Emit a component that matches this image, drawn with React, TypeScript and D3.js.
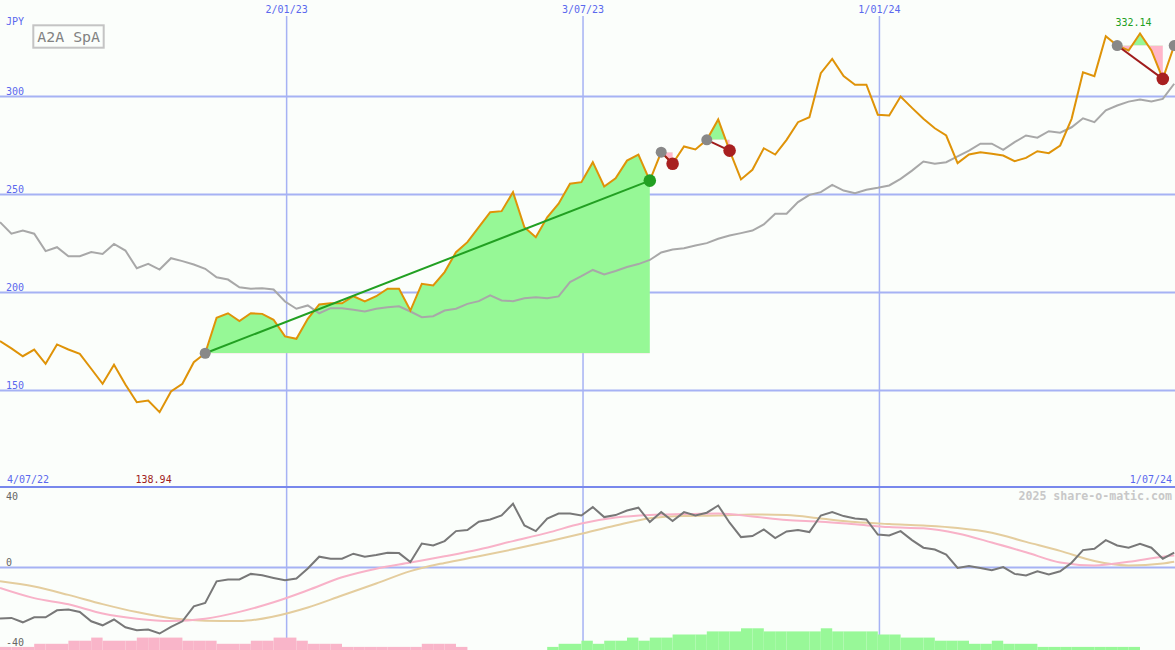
import React from 'react';
import * as d3 from 'd3';

const W = 1175;
const H = 650;

// Weekly closes (JPY)
const price = [
  175.2, 171.5, 167.5, 170.9, 163.6, 173.5, 170.9, 168.7, 161.1, 153.4,
  163.1, 153.1, 144.0, 144.9, 138.94, 149.5, 153.4, 164.4, 169.0, 187.1,
  189.4, 185.4, 189.4, 189.1, 186.1, 177.6, 176.4, 186.6, 193.9, 194.5,
  194.5, 198.1, 195.4, 198.1, 201.9, 201.9, 190.8, 204.4, 203.6, 210.4,
  220.6, 225.7, 233.3, 241.0, 241.5, 251.2, 233.3, 228.2, 238.4, 245.3,
  255.5, 256.3, 266.5, 254.1, 258.3, 267.3, 270.3, 257.1, 271.6, 265.7,
  274.5, 273.0, 277.9, 288.3, 272.4, 257.7, 262.6, 273.6, 270.4, 277.9,
  286.9, 289.4, 311.9, 319.2, 310.4, 306.0, 306.0, 290.7, 290.3, 300.0,
  294.2, 288.6, 283.8, 280.1, 266.0, 270.4, 271.6, 270.8, 269.9, 267.0,
  268.7, 272.1, 271.1, 275.0, 288.6, 312.4, 310.4, 330.8, 326.0, 323.5,
  332.14, 323.5, 309.0, 326.0,
];

// Grey comparison line
const benchmark = [
  235.9, 230.0, 231.6, 230.0, 221.1, 223.1, 218.5, 218.5, 220.6, 219.7,
  224.8, 221.4, 212.4, 214.6, 211.7, 217.5, 216.0, 214.3, 212.1, 207.8,
  206.6, 202.7, 201.9, 202.2, 201.5, 195.4, 191.7, 193.4, 189.4, 192.0,
  192.0, 191.2, 190.3, 191.7, 192.5, 193.0, 190.3, 187.4, 187.9, 190.8,
  191.7, 194.2, 195.6, 198.5, 195.9, 195.6, 197.1, 197.6, 197.1, 198.0,
  205.3, 208.3, 211.5, 209.2, 211.0, 213.0, 214.5, 216.6, 220.4, 221.9,
  222.6, 224.0, 225.2, 227.4, 229.1, 230.3, 231.6, 234.7, 240.2, 240.2,
  246.1, 249.8, 251.2, 254.9, 252.0, 250.7, 252.4, 253.4, 254.6, 258.0,
  262.2, 266.8, 265.7, 266.5, 269.4, 272.4, 275.9, 275.9, 272.8, 276.7,
  280.1, 279.0, 282.3, 281.5, 284.3, 288.9, 286.9, 292.9, 295.4, 297.4,
  298.5, 297.4, 298.8, 306.5,
];

// Lower panel: momentum oscillator
const momentum = [
  -25.5, -25.2, -27.4, -24.9, -24.9, -21.4, -21.0, -22.2, -26.9, -28.9,
  -26.0, -29.9, -31.4, -31.0, -33.0, -29.7, -26.9, -19.4, -17.7, -6.9,
  -6.0, -6.0, -3.2, -3.9, -5.2, -6.4, -5.5, -0.5, 5.4, 4.4,
  4.4, 6.9, 5.4, 6.2, 7.4, 7.2, 2.7, 12.0, 11.0, 13.2,
  18.2, 18.7, 22.9, 24.0, 26.0, 31.9, 21.0, 18.2, 24.5, 27.0,
  27.0, 26.0, 30.2, 25.2, 26.2, 28.5, 29.9, 22.7, 27.7, 23.2,
  27.7, 26.0, 27.4, 31.0, 22.4, 15.2, 15.7, 19.0, 14.7, 18.0,
  18.8, 17.7, 26.0, 27.7, 25.7, 24.5, 24.0, 16.5, 16.0, 18.2,
  13.7, 9.9, 9.0, 6.5, -0.2, 0.7, -0.2, -1.4, 0.2, -3.2,
  -4.0, -1.9, -3.5, -1.9, 2.4, 8.7, 9.4, 13.7, 11.0, 9.9,
  11.9, 9.9, 4.4, 7.4,
];

// Smoothed signal lines, read at these week indices
const signalIdx = [
  0, 3, 6, 9, 12, 15, 18, 21, 24, 27, 30, 33, 36, 39, 42, 45, 48, 51,
  54, 57, 60, 63, 66, 69, 72, 75, 78, 81, 84, 87, 90, 93, 96, 99, 102, 103,
];
const signalFast = [
  -10.2, -15.3, -18.4, -23.0, -25.6, -26.8, -25.6, -22.2, -17.4, -11.4, -4.9, -0.6,
  2.5, 5.6, 9.0, 13.2, 17.3, 22.0, 25.0, 26.3, 26.7, 27.0, 25.5, 23.7,
  22.9, 21.6, 20.2, 19.6, 17.0, 12.5, 7.6, 2.5, 1.0, 2.9, 5.4, 6.0,
];
const signalSlow = [
  -6.9, -9.5, -13.7, -18.3, -22.3, -25.4, -26.6, -26.8, -24.5, -20.0, -14.0, -8.0,
  -1.8, 2.3, 5.6, 9.1, 12.9, 16.9, 21.0, 24.6, 25.8, 26.0, 26.5, 26.2,
  24.5, 22.7, 21.7, 21.0, 19.8, 17.4, 12.8, 8.3, 3.2, 1.0, 2.0, 2.9,
];

// Histogram at the bottom (negative = pink, positive = green)
const histogram = [
  -1, -1, -1, -2, -2, -2, -3, -3, -4, -3,
  -3, -3, -4, -4, -4, -4, -3, -3, -3, -2,
  -2, -2, -3, -3, -4, -4, -3, -2, -2, -2,
  -1, -1, -1, -1, -1, -1, -1, -2, -2, -2,
  -1, 0, 0, 0, 0, 0, 0, 0, 1, 2,
  2, 3, 2, 3, 3, 4, 3, 4, 4, 5,
  5, 5, 6, 6, 6, 7, 7, 6, 6, 6,
  6, 6, 7, 6, 6, 6, 6, 5, 5, 4,
  4, 4, 3, 3, 3, 2, 2, 3, 2, 2,
  2, 1, 1, 1, 1, 1, 1, 1, 1, 1,
  0, 0, 0, 0,
];

// Trades: entry / exit week indices (null = still open)
const tradeEntry = [18, 58, 62, 98, 103];
const tradeExit: (number | null)[] = [57, 59, 64, 102, null];

const priceTicks = [150, 200, 250, 300];
const oscTicks = [40, 0, -40];
const dateTicks = ['2023-01-02', '2023-07-03', '2024-01-01'];
const startLabel = '4/07/22';
const endLabel = '1/07/24';
const currency = 'JPY';
const title = 'A2A SpA';
const credit = '2025 share-o-matic.com';

const startDate = Date.UTC(2022, 6, 10);
const dates = price.map((_, i) => d3.utcDay.offset(new Date(startDate), 7 * i));

const FONT = "'DejaVu Sans Mono', monospace";
const BLUE_TEXT = '#5a68ee';
const GRID = '#a6b2f4';

export default function App() {
  const n = price.length;
  const x = d3.scaleUtc().domain([dates[0], dates[n - 1]]).range([0, 1174.2]);
  const y = d3.scaleLinear().domain([100, 300]).range([488.5, 96.5]);
  const yo = d3.scaleLinear().domain([-40, 40]).range([647.5, 487.5]);
  const hb = d3.scaleLinear().domain([0, 7]).range([0, 21.7]);
  const fmt = d3.utcFormat('%-d/%m/%y');
  const xi = (i: number) => x(dates[i]);
  const barW = xi(1) - xi(0);

  const priceLine = d3.line<number>().x((_, i) => xi(i)).y((d) => y(d));
  const oscLine = d3.line<number>().x((_, i) => xi(i)).y((d) => yo(d));
  const sigLine = (vals: number[]) =>
    d3
      .line<number>()
      .x((_, k) => xi(signalIdx[k]))
      .y((d) => yo(d))
      .curve(d3.curveMonotoneX)(vals) as string;

  const maxIdx = d3.maxIndex(price);
  const minIdx = d3.minIndex(price);

  return (
    <svg
      width={W}
      height={H}
      style={{ position: 'absolute', left: 0, top: 0, display: 'block' }}
      fontFamily={FONT}
    >
      <defs>
        {tradeEntry.map((e, t) => {
          const ly = y(price[e]);
          return (
            <React.Fragment key={t}>
              <clipPath id={`above-${t}`}>
                <rect x={0} y={0} width={W} height={ly} />
              </clipPath>
              <clipPath id={`below-${t}`}>
                <rect x={0} y={ly} width={W} height={488 - ly} />
              </clipPath>
            </React.Fragment>
          );
        })}
      </defs>
      <rect x={0} y={0} width={W} height={H} fill="#fbfefb" />

      {/* horizontal price grid */}
      {priceTicks.map((v) => (
        <g key={v}>
          <line x1={0} x2={W} y1={y(v)} y2={y(v)} stroke={GRID} strokeWidth={2} />
          <text x={6} y={y(v) - 2} fontSize={10} fill={BLUE_TEXT}>
            {v}
          </text>
        </g>
      ))}

      {/* vertical date grid */}
      {dateTicks.map((d) => {
        const dt = new Date(d + 'T00:00:00Z');
        const px = x(dt);
        return (
          <g key={d}>
            <line x1={px} x2={px} y1={16} y2={H} stroke={GRID} strokeWidth={1.5} />
            <text x={px} y={13} fontSize={10} fill={BLUE_TEXT} textAnchor="middle">
              {fmt(dt)}
            </text>
          </g>
        );
      })}

      {/* lower panel */}
      <line x1={0} x2={W} y1={yo(0)} y2={yo(0)} stroke={GRID} strokeWidth={2} />
      {histogram.map((v, i) =>
        v === 0 ? null : (
          <rect
            key={i}
            x={xi(i)}
            y={H - hb(Math.abs(v))}
            width={barW}
            height={hb(Math.abs(v))}
            fill={v < 0 ? '#f9b5c9' : '#98f898'}
          />
        )
      )}
      <path d={sigLine(signalSlow)} fill="none" stroke="#e4cd9e" strokeWidth={2} />
      <path d={sigLine(signalFast)} fill="none" stroke="#f8b2c8" strokeWidth={2} />
      <path d={oscLine(momentum) as string} fill="none" stroke="#787878" strokeWidth={2} />
      {oscTicks.map((v) => (
        <text
          key={v}
          x={6}
          y={v === 40 ? yo(v) + 12 : v === 0 ? yo(v) - 2 : yo(v) - 1.5}
          fontSize={10}
          fill="#666"
        >
          {v}
        </text>
      ))}
      <line x1={0} x2={W} y1={487} y2={487} stroke="#7888ec" strokeWidth={2} />
      <text x={1172} y={500} fontSize={11.6} fontWeight="bold" fill="#c8c8c8" textAnchor="end">
        {credit}
      </text>

      {/* trade fills */}
      {tradeEntry.map((e, t) => {
        const ex = tradeExit[t];
        if (ex === null) return null;
        const idx = d3.range(e, ex + 1);
        const base = y(price[e]);
        const area = d3
          .area<number>()
          .x((i) => xi(i))
          .y0(base)
          .y1((i) => y(price[i]))(idx) as string;
        return (
          <g key={t}>
            <path d={area} fill="#96f896" clipPath={`url(#above-${t})`} />
            <path d={area} fill="#ffb6c9" clipPath={`url(#below-${t})`} />
          </g>
        );
      })}

      {/* benchmark & price */}
      <path d={priceLine(benchmark) as string} fill="none" stroke="#a8a8a8" strokeWidth={2} />
      <path d={priceLine(price) as string} fill="none" stroke="#df9308" strokeWidth={2} />

      {/* trade lines and markers */}
      {tradeEntry.map((e, t) => {
        const ex = tradeExit[t];
        const win = ex !== null && price[ex] > price[e];
        return (
          <g key={t}>
            {ex !== null && (
              <line
                x1={xi(e)}
                y1={y(price[e])}
                x2={xi(ex)}
                y2={y(price[ex])}
                stroke={win ? '#22a022' : '#a01c1c'}
                strokeWidth={2}
              />
            )}
            <circle cx={xi(e)} cy={y(price[e])} r={5.5} fill="#888888" />
            {ex !== null && (
              <circle cx={xi(ex)} cy={y(price[ex])} r={6.3} fill={win ? '#22a022' : '#a82020'} />
            )}
          </g>
        );
      })}

      {/* labels */}
      <text x={6} y={25} fontSize={10} fill={BLUE_TEXT}>
        {currency}
      </text>
      <rect x={33.3} y={25.3} width={70.4} height={22.4} fill="none" stroke="#c4c4c4" strokeWidth={2} />
      <text x={37.3} y={41.7} fontSize={14.9} fill="#828282">
        {title}
      </text>
      <text x={xi(maxIdx) - 6.5} y={25.5} fontSize={10} fill="#22a022" textAnchor="middle">
        {price[maxIdx].toFixed(2)}
      </text>
      <text x={xi(minIdx) - 6} y={483} fontSize={10} fill="#a01c1c" textAnchor="middle">
        {price[minIdx].toFixed(2)}
      </text>
      <text x={7} y={483} fontSize={10} fill={BLUE_TEXT}>
        {startLabel}
      </text>
      <text x={1172} y={483} fontSize={10} fill={BLUE_TEXT} textAnchor="end">
        {endLabel}
      </text>
    </svg>
  );
}
